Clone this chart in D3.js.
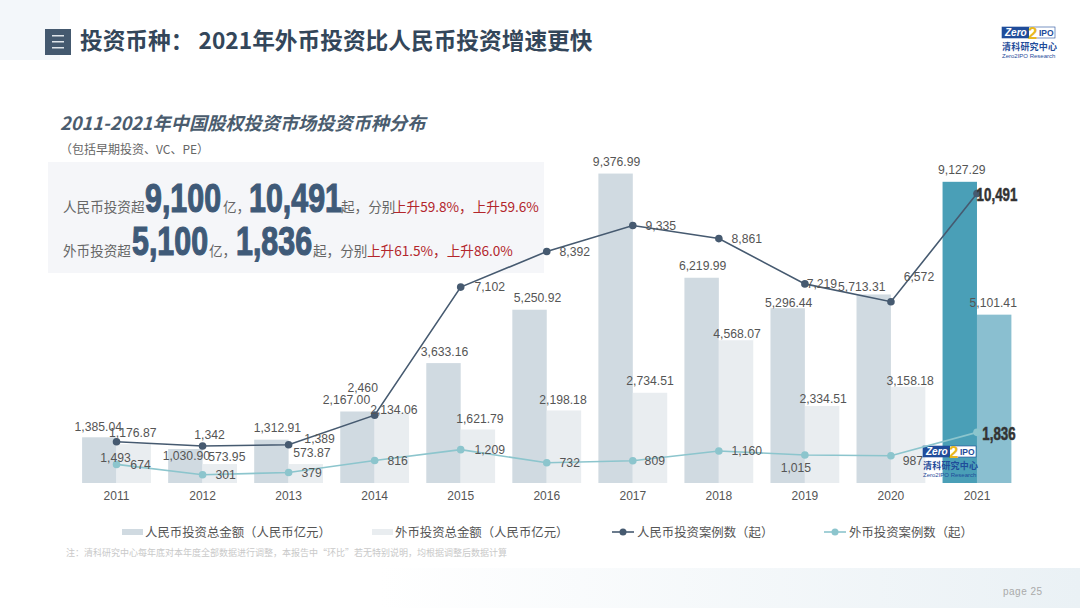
<!DOCTYPE html>
<html>
<head>
<meta charset="utf-8">
<script src="https://cdn.jsdelivr.net/npm/d3@7"></script>
<style>
  html, body { margin: 0; padding: 0; background: #fff; }
  svg { display: block; font-family: "Noto Sans CJK SC", "Noto Sans", sans-serif; }
</style>
</head>
<body>
<svg id="chart" width="1080" height="608"></svg>
<script>
const years = ["2011","2012","2013","2014","2015","2016","2017","2018","2019","2020","2021"];
const rmbAmount = [1385.04,1030.90,1312.91,2167.00,3633.16,5250.92,9376.99,6219.99,5296.44,5713.31,9127.29];
const fxAmount = [1176.87,573.95,573.87,2134.06,1621.79,2198.18,2734.51,4568.07,2334.51,3158.18,5101.41];
const rmbCases = [1493,1342,1389,2460,7102,8392,9335,8861,7219,6572,10491];
const fxCases = [674,301,379,816,1209,732,809,1160,1015,987,1836];
const legendNames = ["人民币投资总金额（人民币亿元）","外币投资总金额（人民币亿元）","人民币投资案例数（起）","外币投资案例数（起）"];
// these two labels sit on a white box that hides the top of their bar
const fxBoxedYears = ["2018", "2020"];

// label nudges, [dx, dy] from the mark they belong to
const rmbAmountNudge = [[-1,-11],[1,7],[6,-12],[-11,-12],[1,-11],[8,-12],[1,-12],[1,-12],[1,-5],[-12,-8],[2,-12]];
const fxAmountNudge = [[-1,-11],[7,-7],[6,-11],[2,-3],[2,-11],[-1,-11],[0,-12],[1,1],[1,-7],[2,2],[-1,-12]];
const rmbCasesNudge = [[-1,16],[7,-11],[31,-6],[-12,-27],[29,0],[28,0],[28,0],[28,0],[17,0],[28,-25],[20,1]];
const fxCasesNudge = [[24,0],[23,0],[23,0],[23,0],[29,0],[23,0],[22,0],[28,0],[-9,13],[22,5],[22,1]];

const svg = d3.select("#chart");
const font = '"Liberation Sans", Arial, sans-serif';

// page background
const defs = svg.append("defs");
const bottomGrad = defs.append("linearGradient").attr("id", "bottomGrad");
bottomGrad.append("stop").attr("offset", "0").attr("stop-color", "#fff");
bottomGrad.append("stop").attr("offset", "1").attr("stop-color", "#eaf1f5");
svg.append("rect").attr("x", 0).attr("y", 0).attr("width", 60).attr("height", 60).attr("fill", "#f3f7fa");
svg.append("rect").attr("x", 380).attr("y", 568).attr("width", 700).attr("height", 40).attr("fill", "url(#bottomGrad)");

// header
svg.append("rect").attr("x", 45).attr("y", 29).attr("width", 26).attr("height", 26).attr("fill", "#44596f");
[36, 42, 48].forEach(y => {
  svg.append("rect").attr("x", 52).attr("y", y - 1).attr("width", 12).attr("height", 1.5).attr("fill", "#dfe5ea");
});
svg.append("text").attr("x", 80).attr("y", 49).attr("font-size", 22.7).attr("font-weight", 700)
  .attr("fill", "#33465a").text("投资币种： 2021年外币投资比人民币投资增速更快");

svg.append("text").attr("x", 60).attr("y", 130).attr("font-size", 18.2).attr("font-weight", 700)
  .attr("font-style", "italic").attr("fill", "#4a5c6e").text("2011-2021年中国股权投资市场投资币种分布");
svg.append("text").attr("x", 60).attr("y", 154).attr("font-size", 12).attr("fill", "#666").text("（包括早期投资、VC、PE）");

// highlight panel
svg.append("rect").attr("x", 48).attr("y", 162).attr("width", 496).attr("height", 111).attr("fill", "#f5f6f9");

function piece(x, y, str, size, color) {
  return svg.append("text").attr("x", x).attr("y", y).attr("font-size", size).attr("fill", color).text(str);
}
// no condensed heavy font here, so squeeze the bold one sideways
function bigNumber(x, y, str) {
  return svg.append("text").attr("transform", `translate(${x},${y}) scale(0.76,1)`)
    .attr("font-family", font).attr("font-weight", 700).attr("font-size", 40)
    .attr("fill", navy).attr("stroke", navy).attr("stroke-width", 1.2).text(str);
}
const navy = "#3f5a78", grey = "#666", red = "#b3262c";
piece(63, 212, "人民币投资超", 13.6, grey);
bigNumber(145, 212, "9,100");
piece(223, 212, "亿，", 13.6, grey);
bigNumber(249, 212, "10,491");
piece(341, 212, "起，分别", 13.6, grey);
piece(393, 212, "上升59.8%，上升59.6%", 13.6, red);
piece(63, 256, "外币投资超", 13.6, grey);
bigNumber(132, 255, "5,100");
piece(209, 256, "亿，", 13.6, grey);
bigNumber(236, 255, "1,836");
piece(313, 256, "起，分别", 13.6, grey);
piece(367, 256, "上升61.5%，上升86.0%", 13.6, red);

// scales
const baseY = 483;
const x = d3.scaleBand().domain(years).range([73.5, 1020]).paddingInner(0.2).paddingOuter(0.1);
const inner = d3.scaleBand().domain(["rmb", "fx"]).range([0, x.bandwidth()]);
const yAmount = d3.scaleLinear().domain([0, 10000]).range([baseY, baseY - 330]);
const yCases = d3.scaleLinear().domain([0, 12000]).range([baseY, baseY - 331]);

// bars
const plot = svg.append("g");
plot.selectAll("rect.rmb").data(years).enter().append("rect").attr("class", "rmb")
  .attr("x", d => x(d) + inner("rmb")).attr("width", inner.bandwidth())
  .attr("y", (d, i) => yAmount(rmbAmount[i])).attr("height", (d, i) => baseY - yAmount(rmbAmount[i]))
  .attr("fill", d => d === "2021" ? "#4a9fb7" : "#d0dae1");
plot.selectAll("rect.fx").data(years).enter().append("rect").attr("class", "fx")
  .attr("x", d => x(d) + inner("fx")).attr("width", inner.bandwidth())
  .attr("y", (d, i) => yAmount(fxAmount[i])).attr("height", (d, i) => baseY - yAmount(fxAmount[i]))
  .attr("fill", d => d === "2021" ? "#8abfd0" : "#e9edf0");
fxBoxedYears.forEach(year => {
  const top = yAmount(fxAmount[years.indexOf(year)]);
  plot.append("rect").attr("x", x(year) + inner("fx")).attr("width", inner.bandwidth())
    .attr("y", top - 1).attr("height", 9).attr("fill", "#fff");
});

// x axis
const axis = svg.append("g").attr("transform", `translate(0,${baseY})`)
  .call(d3.axisBottom(x).tickSize(0).tickPadding(8));
axis.select(".domain").remove();
axis.selectAll("text").attr("font-family", font).attr("font-size", 12).attr("fill", "#555");

// logo drawn over the last bars, same mark as header
function logo(px, py) {
  const g = svg.append("g").attr("transform", `translate(${px},${py})`);
  g.append("rect").attr("x", 0).attr("y", 0).attr("width", 53).attr("height", 11).attr("fill", "#fff").attr("stroke", "#1f4c9a").attr("stroke-width", 0.6);
  g.append("rect").attr("x", 0).attr("y", 0).attr("width", 27).attr("height", 11).attr("fill", "#1f4c9a");
  g.append("text").attr("x", 3).attr("y", 9).attr("font-size", 10).attr("font-weight", 700).attr("font-style", "italic")
    .attr("font-family", font).attr("fill", "#fff").text("Zero");
  g.append("text").attr("x", 26).attr("y", 12).attr("font-size", 17).attr("font-weight", 700)
    .attr("font-family", font).attr("fill", "#e8b820").text("2");
  g.append("text").attr("x", 37).attr("y", 9).attr("font-size", 8.5).attr("font-weight", 700)
    .attr("font-family", font).attr("fill", "#1f4c9a").text("IPO");
  g.append("text").attr("x", 0).attr("y", 23).attr("font-size", 9).attr("font-weight", 700).attr("fill", "#1f4c9a").attr("letter-spacing", 0.2).text("清科研究中心");
  g.append("text").attr("x", 0).attr("y", 31).attr("font-size", 6).attr("font-family", font).attr("fill", "#1f4c9a").text("Zero2IPO Research");
}
logo(1002, 27);

// lines
const center = d => x(d) + x.bandwidth() / 2;
function drawLine(values, scale, color) {
  const line = d3.line().x((d, i) => center(years[i])).y(d => scale(d));
  svg.append("path").datum(values).attr("d", line).attr("fill", "none").attr("stroke", color).attr("stroke-width", 1.6);
  svg.append("g").selectAll("circle").data(values).enter().append("circle")
    .attr("cx", (d, i) => center(years[i])).attr("cy", d => scale(d)).attr("r", 3.8).attr("fill", color);
}
logo(923, 446);
drawLine(rmbCases, yCases, "#465a70");
drawLine(fxCases, yCases, "#8cc5cd");

// value labels, the last count of each line is set big and squeezed
function drawLabels(values, nudges, xOf, yOf, fmt, boldLast) {
  const isBold = i => boldLast && i === 10;
  svg.append("g").selectAll("text").data(values).enter().append("text")
    .attr("transform", (d, i) => `translate(${xOf(i) + nudges[i][0]},${yOf(d) + nudges[i][1]}) scale(${isBold(i) ? 0.74 : 1},1)`)
    .attr("dy", "0.35em")
    .attr("text-anchor", "middle").attr("font-family", font)
    .attr("font-size", (d, i) => isBold(i) ? 18 : 12.2)
    .attr("font-weight", (d, i) => isBold(i) ? 700 : 400)
    .attr("stroke", (d, i) => isBold(i) ? "#333" : "none").attr("stroke-width", 0.5)
    .attr("fill", (d, i) => isBold(i) ? "#333" : "#555")
    .text(fmt);
}
const fmt2 = d3.format(",.2f"), fmt0 = d3.format(",");
drawLabels(rmbAmount, rmbAmountNudge, i => x(years[i]) + inner("rmb") + inner.bandwidth() / 2, yAmount, fmt2, false);
drawLabels(fxAmount, fxAmountNudge, i => x(years[i]) + inner("fx") + inner.bandwidth() / 2, yAmount, fmt2, false);
drawLabels(rmbCases, rmbCasesNudge, i => center(years[i]), yCases, fmt0, true);
drawLabels(fxCases, fxCasesNudge, i => center(years[i]), yCases, fmt0, true);

// legend
const legendX = [122, 372, 612, 824];
legendNames.forEach((name, i) => {
  const lx = legendX[i];
  if (i < 2) {
    svg.append("rect").attr("x", lx).attr("y", 529).attr("width", 21).attr("height", 6).attr("fill", i === 0 ? "#d0dae1" : "#e9edf0");
  } else {
    const c = i === 2 ? "#465a70" : "#8cc5cd";
    svg.append("line").attr("x1", lx).attr("x2", lx + 22).attr("y1", 532).attr("y2", 532).attr("stroke", c).attr("stroke-width", 1.6);
    svg.append("circle").attr("cx", lx + 11).attr("cy", 532).attr("r", 3.5).attr("fill", c);
  }
  svg.append("text").attr("x", lx + (i < 2 ? 23 : 25)).attr("y", 537).attr("font-size", 12.4).attr("fill", "#555").text(name);
});

// footnote and page number
svg.append("text").attr("x", 66).attr("y", 556).attr("font-size", 9).attr("fill", "#c9c9c9")
  .text("注：清科研究中心每年底对本年度全部数据进行调整，本报告中“环比”若无特别说明，均根据调整后数据计算");
svg.append("text").attr("x", 1003).attr("y", 595).attr("font-size", 10).attr("font-family", font).attr("letter-spacing", 0.5)
  .attr("fill", "#aaa").text("page  25");
</script>
</body>
</html>
